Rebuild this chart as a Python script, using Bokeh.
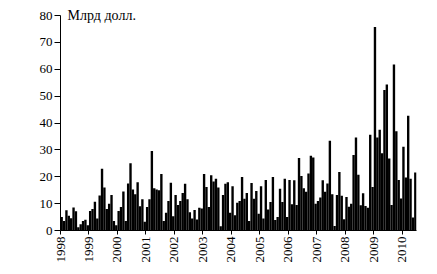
import math
from bokeh.plotting import figure
from bokeh.models import ColumnDataSource, Label, FixedTicker, Range1d
from bokeh.embed import file_html
from bokeh.resources import INLINE

years = list(range(1998, 2011))
tick_labels = [str(y) for y in years]

v1998 = [5, 3.5, 7.5, 5.5, 4.6, 8.6, 7.2, 1.2, 2.3, 3.5, 4.0, 2]
v1999 = [7.3, 8, 10.7, 4.5, 13, 23, 16, 8, 10, 13.2, 3.5, 2]
v2000 = [7.3, 8.7, 14.5, 3.5, 17.5, 25, 15.3, 13.5, 18, 9, 11.6, 3.3]
v2001 = [8.7, 11.6, 29.6, 15.7, 15.3, 15, 21, 3.5, 6.6, 11, 17.8, 5.3]
v2002 = [13.2, 9.5, 11, 14, 17.4, 11.6, 6.8, 4.5, 7.6, 4.1, 8.5, 8.2]
v2003 = [21, 16.2, 8.7, 20.6, 18.2, 19.3, 16, 1.6, 13.2, 17.4, 18, 6.6]
v2004 = [16.5, 5.7, 10.3, 11, 19.9, 11.8, 14, 3.5, 17.7, 11.8, 14.7, 6.2]
v2005 = [16.5, 4.5, 18.8, 7.8, 10.6, 19.9, 3.9, 5, 15.5, 10.6, 19.3, 5]
v2006 = [18.8, 9.8, 18.7, 9.5, 27, 20.3, 15.7, 14.4, 21.2, 27.8, 27.2, 10]
v2007 = [11, 12.3, 18.7, 14.4, 17.5, 33.4, 13.5, 1.7, 13.2, 21.8, 12.9, 4.2]
v2008 = [12.5, 8.8, 10, 28.1, 34.6, 20.7, 9.4, 13.9, 9.1, 8.5, 35.6, 16.2]
v2009 = [75.7, 34.6, 37.5, 28.7, 52.3, 54.3, 26.8, 9.5, 61.8, 36.9, 18.8, 11.9]
v2010 = [31.2, 19.7, 42.7, 19.3, 4.8, 21.6]

values = (v1998 + v1999 + v2000 + v2001 + v2002 + v2003 + v2004 + v2005
          + v2006 + v2007 + v2008 + v2009 + v2010)
xs = [1998 + (i + 0.5) / 12 for i in range(len(values))]

src = ColumnDataSource(dict(x=xs, top=values))

p = figure(width=437, height=274, output_backend="svg", toolbar_location=None,
           x_range=Range1d(1998, 1998 + len(values) / 12),
           y_range=Range1d(0, 80 * 228 / 215),
           min_border_left=60, min_border_right=21, min_border_top=2,
           min_border_bottom=44)
p.outline_line_color = None
p.background_fill_color = "white"
p.border_fill_color = "white"
p.xgrid.visible = False
p.ygrid.visible = False

p.vbar(x="x", top="top", bottom=0, width=1 / 12, source=src,
       fill_color="black", line_color=None)

font = "'Liberation Serif', 'Times New Roman', serif"
p.xaxis.ticker = FixedTicker(ticks=years)
p.xaxis.major_label_overrides = {y: s for y, s in zip(years, tick_labels)}
p.xaxis.major_label_orientation = math.pi / 2
p.xaxis.minor_tick_line_color = None
p.xaxis.major_tick_out = 4
p.xaxis.major_tick_in = 0
p.yaxis.ticker = FixedTicker(ticks=list(range(0, 81, 10)))
p.yaxis.bounds = (0, 80)
p.yaxis.minor_tick_line_color = None
p.yaxis.major_tick_out = 6
p.yaxis.major_tick_in = 0
for ax in (p.xaxis, p.yaxis):
    ax.major_label_text_font = font
    ax.major_label_text_font_size = "13px"
    ax.major_label_text_color = "black"
    ax.axis_line_color = "black"
    ax.major_tick_line_color = "black"
    ax.major_label_standoff = 2

p.add_layout(Label(x=1998.25, y=80, text="Млрд долл.", text_font=font,
                   text_font_size="14px", text_baseline="middle",
                   text_color="black"))

open("out.html", "w").write(file_html(p, INLINE))
